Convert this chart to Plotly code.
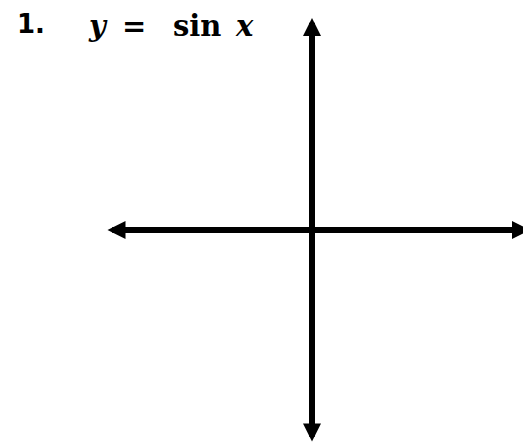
import plotly.graph_objects as go

# axis end points, origin at (0, 0)
h_axis_x = [-205, 218]
v_axis_y = [-212, 212]

# title pieces and where they sit on the page (px, left/top of the window)
title_parts = ["1.", "<i>y</i>", "=", "sin", "<i>x</i>"]
title_fonts = ["DejaVu Sans", "DejaVu Serif", "DejaVu Serif", "DejaVu Serif", "DejaVu Serif"]
title_sizes = [26, 29, 29, 29, 29]
title_cx = [31, 98, 134, 197, 244]
title_cy = [24.5, 25.5, 25.5, 25.5, 25.5]

W, H = 523, 435   # the page puts an 8px body margin around the figure
PAGE_OFF = 8

fig = go.Figure()
fig.add_trace(go.Scatter(x=[0], y=[0], mode="markers", marker=dict(opacity=0), hoverinfo="skip"))

arrow_style = dict(
    xref="x", yref="y", axref="x", ayref="y",
    text="", showarrow=True, arrowside="end+start",
    arrowhead=2, startarrowhead=2, arrowsize=0.6, startarrowsize=0.6,
    arrowwidth=6, arrowcolor="black", standoff=0, startstandoff=0,
    borderpad=0, font=dict(size=1),
)
fig.add_annotation(x=h_axis_x[1], y=0, ax=h_axis_x[0], ay=0, **arrow_style)
fig.add_annotation(x=0, y=v_axis_y[1], ax=0, ay=v_axis_y[0], **arrow_style)

for txt, fam, sz, cx, cy in zip(title_parts, title_fonts, title_sizes, title_cx, title_cy):
    fig.add_annotation(
        x=(cx - PAGE_OFF) / W, y=1 - (cy - PAGE_OFF) / H,
        xref="paper", yref="paper", xanchor="center", yanchor="middle",
        showarrow=False, text="<b>" + txt + "</b>",
        font=dict(family=fam, size=sz, color="black"),
    )

fig.update_xaxes(range=[-304, W - 304], visible=False, fixedrange=True)
fig.update_yaxes(range=[-(H - 222), 222], visible=False, fixedrange=True)
fig.update_layout(
    width=W, height=H,
    margin=dict(l=0, r=0, t=0, b=0),
    paper_bgcolor="white", plot_bgcolor="white",
    showlegend=False,
)

fig.write_html("out.html")
